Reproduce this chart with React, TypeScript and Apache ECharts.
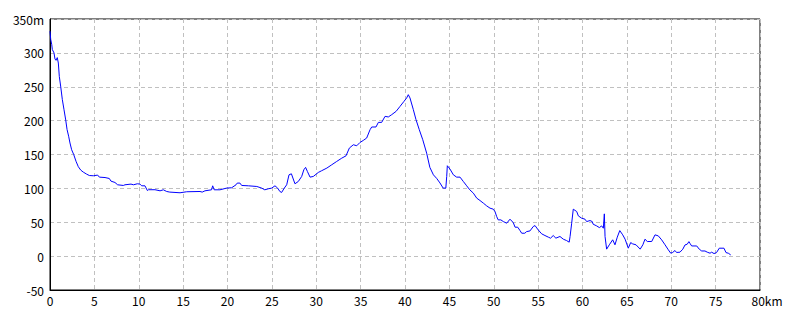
import React, { useEffect, useRef } from "react";
import * as echarts from "echarts";

// Distance along the route (km)
const distanceKm: number[] = [
  0, 0.08, 0.2, 0.26, 0.45, 0.56, 0.68, 0.82, 0.94, 1.05, 1.2, 1.39, 1.58, 1.77, 1.92, 2.1, 2.25, 2.44, 2.67, 2.93,
  3.19, 3.46, 3.75, 4.13, 4.43, 4.88, 5.37, 5.56, 6.2, 6.68, 6.87, 7.32, 7.62, 8.26, 8.45, 9.13, 9.4, 9.84, 10.14, 10.33,
  10.7, 10.97, 11.1, 11.83, 12.4, 12.77, 13.15, 13.5, 14.65, 15.4, 16.9, 17.15, 17.46, 18.2, 18.33, 18.5, 19.15, 19.9, 20.47, 20.96,
  21.1, 21.4, 21.6, 22.35, 23.3, 23.85, 24.2, 24.6, 24.98, 25.35, 25.65, 25.9, 26.1, 26.4, 26.67, 26.93, 27.2, 27.6, 27.98, 28.36,
  28.6, 28.8, 29.0, 29.3, 29.67, 30.23, 30.6, 31.2, 31.74, 32.3, 32.87, 33.35, 33.73, 34.18, 34.56, 34.93, 35.3, 35.68, 36.06, 36.25,
  36.73, 37.0, 37.37, 37.75, 38.12, 38.5, 39.0, 39.44, 39.89, 40.19, 40.37, 40.56, 40.94, 41.24, 41.61, 42.0, 42.44, 42.8, 43.2, 43.57,
  43.94, 44.3, 44.6, 44.7, 44.77, 45.07, 45.45, 45.82, 46.2, 46.57, 46.95, 47.3, 47.7, 48.08, 48.45, 48.83, 49.2, 49.58, 49.95, 50.14,
  50.33, 50.5, 50.8, 51.08, 51.46, 51.83, 52.2, 52.4, 52.7, 52.96, 53.15, 53.5, 53.7, 54.08, 54.45, 54.65, 55.0, 55.4, 55.77, 56.15,
  56.4, 56.7, 57.0, 57.46, 57.84, 58.2, 58.5, 58.6, 58.78, 58.96, 59.35, 59.53, 59.9, 60.28, 60.47, 60.85, 61.1, 61.2, 61.6, 61.9,
  62.16, 62.35, 62.46, 62.54, 62.72, 63.02, 63.4, 63.66, 63.92, 64.2, 64.53, 64.8, 65.16, 65.43, 65.65, 66.03, 66.5, 66.8, 67.04, 67.3,
  67.8, 68.17, 68.54, 68.92, 69.3, 69.67, 69.94, 70.16, 70.42, 70.6, 70.98, 71.3, 71.55, 71.8, 71.99, 72.1, 72.3, 72.87, 73.16, 73.43,
  73.8, 74.06, 74.37, 74.55, 74.82, 75.1, 75.41, 75.94, 76.17, 76.43, 76.7,
];

// Elevation (m)
const elevationM: number[] = [
  332, 320, 312, 305, 300, 291, 289, 293, 285, 265, 251, 231, 216, 201, 187, 177, 167, 157, 150, 140,
  132, 127, 124, 121, 119, 118.6, 119.6, 116.6, 116, 114.6, 110.7, 108.7, 105.3, 104.3, 105.3, 106.3, 105.3, 106.8, 106.3, 103.8,
  103.8, 96.8, 98, 98, 96.4, 97.9, 95.4, 94.5, 93.5, 95, 95.4, 94.5, 96.4, 97.9, 103.8, 97.9, 97.9, 100.4, 100.9, 105.3,
  107.8, 107.8, 104.3, 103.8, 102.8, 100.4, 97.9, 99.4, 100.4, 103.8, 100.4, 95.4, 94, 100.4, 105.3, 120, 121.5, 106.8, 110.2, 117.6,
  127.4, 131, 125, 116.6, 117.6, 123.5, 126, 130, 134.8, 139.7, 144.6, 148, 159.5, 164.4, 162.9, 167.8, 170.8, 174.3, 186.6, 190.6,
  190.6, 197.4, 197.4, 206.3, 205.4, 208.8, 213.7, 221, 228.5, 233.5, 238.3, 233.5, 216.2, 201.4, 186.6, 171.8, 152, 131, 120, 114.7,
  108, 100.4, 100.4, 117.6, 133.4, 128.5, 120, 116.6, 116.6, 110.2, 103.8, 97.9, 93, 85.6, 82.1, 78.2, 74.2, 70.8, 69.3, 65.8,
  58.4, 53.5, 53.5, 51, 48.6, 54.5, 49.5, 42.7, 42.7, 37.7, 33.8, 33.8, 36.2, 37.2, 43.7, 45.1, 38.8, 32.9, 30.4, 28,
  26.5, 30.4, 26.5, 29, 25, 23, 20.6, 29, 48.6, 69.3, 65.8, 59.4, 56, 54.5, 51, 52.5, 51, 47.1, 44.6, 42.1,
  44.6, 41.2, 62.4, 29, 10.3, 16.7, 24.1, 16.7, 28, 37.7, 31.4, 25, 11.7, 20, 18.1, 16.7, 10.3, 16.7, 25, 21.6,
  21.6, 31.4, 29.9, 24, 16.7, 9.3, 4.4, 5.4, 8.3, 5.4, 5.8, 10.2, 16.5, 17.6, 21.4, 19, 15, 15, 10.2, 7.6,
  7.6, 5.8, 4.3, 5.8, 3.8, 5.2, 11.7, 11.7, 5.2, 4.3, 1.8,
];

const xMin = 0;
const xMax = 80;
const xStep = 5;
const yMin = -50;
const yMax = 350;
const yStep = 50;

const FONT = "'Noto Sans CJK JP', 'DejaVu Sans', sans-serif";

export default function App() {
  const ref = useRef<HTMLDivElement>(null);

  useEffect(() => {
    if (!ref.current) return;
    const chart = echarts.init(ref.current, undefined, { renderer: "svg" });
    const data = distanceKm.map((d, i) => [d, elevationM[i]]);
    chart.setOption({
      animation: false,
      backgroundColor: "#ffffff",
      grid: {
        left: 50,
        right: 40,
        top: 19,
        bottom: 30,
        show: true,
        borderColor: "#000000",
        borderWidth: 1,
        backgroundColor: "transparent",
      },
      xAxis: {
        type: "value",
        min: xMin,
        max: xMax,
        interval: xStep,
        axisLine: { show: true, onZero: false, lineStyle: { color: "#000000", width: 1 } },
        axisTick: { show: false },
        splitLine: { show: true, lineStyle: { color: "#c0c0c0", type: [4, 3], width: 1 } },
        axisLabel: {
          color: "#000000",
          fontSize: 12,
          fontFamily: FONT,
          margin: 4,
          formatter: (v: number) => (v === xMax ? `{p|}${v}km` : `${v}`),
          rich: { p: { width: 14 } },
        },
      },
      yAxis: {
        type: "value",
        min: yMin,
        max: yMax,
        interval: yStep,
        axisLine: { show: true, onZero: false, lineStyle: { color: "#000000", width: 1 } },
        axisTick: { show: false },
        splitLine: { show: true, lineStyle: { color: "#c0c0c0", type: [4, 3], width: 1 } },
        axisLabel: {
          color: "#000000",
          fontSize: 12,
          fontFamily: FONT,
          margin: 6,
          formatter: (v: number) => (v === yMax ? `${v}m` : `${v}`),
        },
      },
      series: [
        {
          type: "line",
          data,
          showSymbol: false,
          symbol: "none",
          lineStyle: { color: "#0000ff", width: 1 },
          itemStyle: { color: "#0000ff" },
        },
      ],
    });
    return () => chart.dispose();
  }, []);

  return (
    <div
      ref={ref}
      style={{ position: "fixed", left: 0, top: 0, width: 800, height: 320, background: "#ffffff" }}
    />
  );
}
